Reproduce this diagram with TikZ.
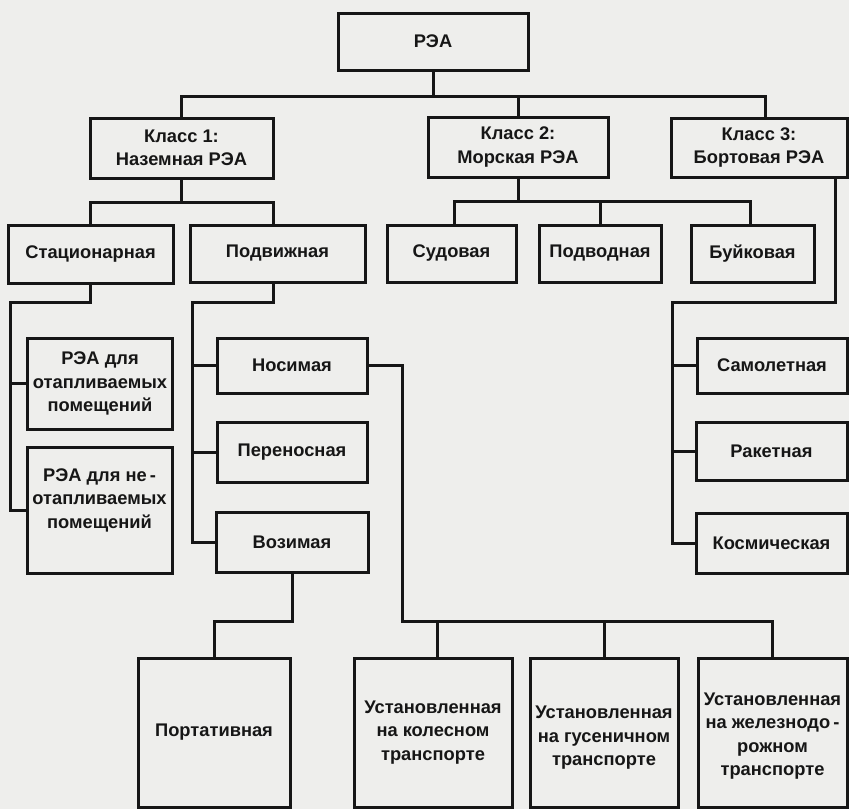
\documentclass[tikz,border=0pt]{standalone}
\usepackage{fontspec}
\setmainfont{Liberation Sans}
\definecolor{bg}{RGB}{238,238,236}
\definecolor{ink}{RGB}{22,22,22}
\begin{document}
\begin{tikzpicture}[x=1pt,y=-1pt,
  box/.style={draw=ink,text=ink,line width=3pt,inner sep=0pt,align=center,
    font=\bfseries\fontsize{18.3}{23.5}\selectfont},
  txt/.style={text=ink,inner sep=0pt,align=center,font=\bfseries\fontsize{18.3}{23.5}\selectfont},
  conn/.style={draw=ink,line width=3pt}]
\fill[bg] (0,0) rectangle (849,809);
\useasboundingbox (0,0) rectangle (849,809);

% level 0
\node[box,minimum width=190pt,minimum height=57pt] (rea) at (433,41.5) {РЭА};
% level 1
\node[box,minimum width=183pt,minimum height=60pt] (k1) at (181.5,148) {Класс 1:\\Наземная РЭА};
\node[box,minimum width=180pt,minimum height=60pt] (k2) at (518,147) {Класс 2:\\Морская РЭА};
\node[box,minimum width=176pt,minimum height=59pt] (k3) at (759,147.5) {Класс 3:\\Бортовая РЭА};
% level 2
\node[box,minimum width=165pt,minimum height=58pt] (stat) at (90.5,254) {Стационарная};
\node[box,minimum width=175pt,minimum height=57pt] (podv) at (277.5,253.5) {Подвижная};
\node[box,minimum width=129pt,minimum height=57pt] (sud) at (451.5,253.5) {Судовая};
\node[box,minimum width=122pt,minimum height=57pt] (podvod) at (600,253.5) {Подводная};
\node[box,minimum width=123pt,minimum height=57pt] (buik) at (752.5,253.5) {Буйковая};
% level 3
\node[box,minimum width=145pt,minimum height=91pt] (otap) at (100,383.5) {РЭА для\\отапливаемых\\помещений};
\node[box,minimum width=145pt,minimum height=126pt] (neotap) at (99.5,510) {};
\node[txt] (neotapT) at (99.5,500) {РЭА для не\,-\\отапливаемых\\помещений};
\node[box,minimum width=150pt,minimum height=55pt] (nos) at (292,365.5) {Носимая};
\node[box,minimum width=150pt,minimum height=60pt] (pere) at (292,452) {Переносная};
\node[box,minimum width=152pt,minimum height=60pt] (voz) at (292,542) {Возимая};
\node[box,minimum width=150pt,minimum height=55pt] (samol) at (772,365.5) {Самолетная};
\node[box,minimum width=151pt,minimum height=58pt] (raket) at (771.5,451) {Ракетная};
\node[box,minimum width=151pt,minimum height=60pt] (kosm) at (771.5,543) {Космическая};
% level 4
\node[box,minimum width=152pt,minimum height=149pt] (port) at (214,732.5) {Портативная};
\node[box,minimum width=158pt,minimum height=149pt] (kol) at (433,732.5) {Установленная\\на колесном\\транспорте};
\node[box,minimum width=148pt,minimum height=149pt] (gus) at (604,732.5) {};
\node[txt] (gusT) at (604,738) {Установленная\\на гусеничном\\транспорте};
\node[box,minimum width=149pt,minimum height=149pt] (zhel) at (772.5,732.5) {};
\node[txt] (zhelT) at (772.5,736) {Установленная\\на железнодо\,-\\рожном\\транспорте};

% connectors
\coordinate (b0) at (0,96);
\draw[conn] (rea.south) -- (rea.south |- b0);
\draw[conn] (k1.north) -- (k1.north |- b0) -- ([xshift=6pt]k3.north |- b0) -- ([xshift=6pt]k3.north);
\draw[conn] (k2.north) -- (k2.north |- b0);

\coordinate (b1) at (0,202);
\draw[conn] (k1.south) -- (k1.south |- b1);
\draw[conn] (stat.north) -- (stat.north |- b1) -- ([xshift=-4pt]podv.north |- b1) -- ([xshift=-4pt]podv.north);

\coordinate (b2) at (0,201);
\draw[conn] (k2.south) -- (k2.south |- b2);
\draw[conn] ([xshift=3pt]sud.north) -- ([xshift=3pt]sud.north |- b2) -- ([xshift=-2pt]buik.north |- b2) -- ([xshift=-2pt]buik.north);
\draw[conn] (podvod.north) -- (podvod.north |- b2);

\coordinate (sL) at (10,302);
\draw[conn] (stat.south) |- (sL) |- (neotap.west);
\draw[conn] (otap.west) -- (otap.west -| sL);

\coordinate (pL) at (192,302);
\draw[conn] ([xshift=-4pt]podv.south) |- (pL) |- (voz.west);
\draw[conn] (nos.west) -- (nos.west -| pL);
\draw[conn] (pere.west) -- (pere.west -| pL);

\coordinate (kL) at (672,302);
\draw[conn] ([xshift=-13pt]k3.south east) |- (kL) |- (kosm.west);
\draw[conn] (samol.west) -- (samol.west -| kL);
\draw[conn] (raket.west) -- (raket.west -| kL);

\coordinate (nR) at (402,621);
\draw[conn] (nos.east) -| (nR) -| (zhel.north);
\draw[conn] ([xshift=4pt]kol.north) -- ([xshift=4pt]kol.north |- nR);
\draw[conn] (gus.north) -- (gus.north |- nR);

\coordinate (vB) at (0,621);
\draw[conn] (voz.south) -- (voz.south |- vB) -| (port.north);
\end{tikzpicture}
\end{document}
